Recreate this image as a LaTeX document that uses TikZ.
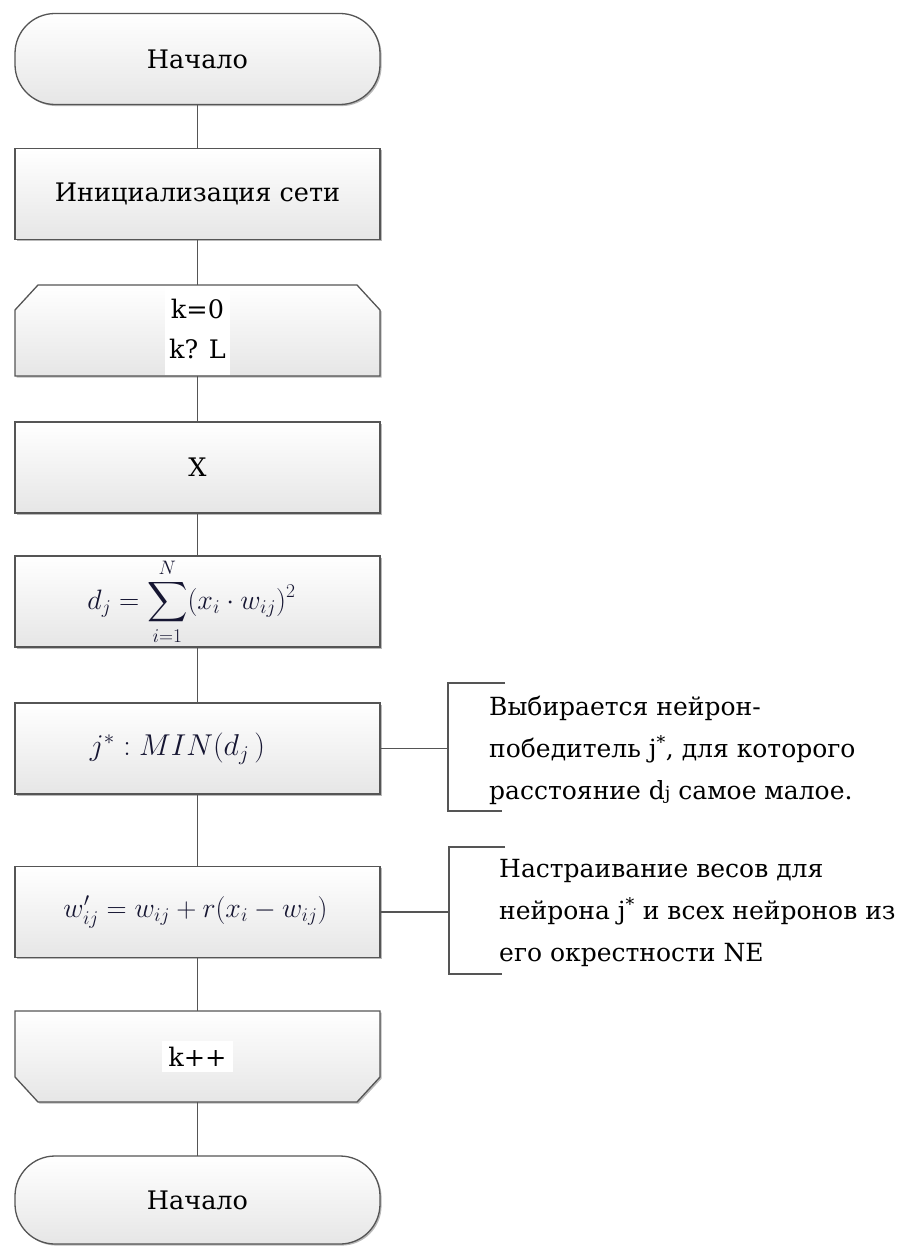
\documentclass[tikz,border=0pt]{standalone}
\usepackage{amsmath}
\usepackage{fontspec}
\setmainfont{DejaVu Serif}
\usepackage{graphicx}
\usetikzlibrary{shadows,backgrounds,calc}

\definecolor{edge}{RGB}{85,85,85}
\definecolor{boxbot}{RGB}{230,230,230}
\definecolor{mathc}{RGB}{22,22,50}
\newcommand\boxfont{\fontsize{25.5}{40}\selectfont}
\newcommand\notefont{\fontsize{25}{42}\selectfont}
\newcommand\smallj{{\fontsize{18}{18}\selectfont j}}

\tikzset{
  frame/.style={draw=edge, line width=1.3pt, top color=white, bottom color=boxbot,
    drop shadow={shadow xshift=1.6pt, shadow yshift=-1.6pt, fill=black!50, opacity=0.55}},
  blk/.style={minimum width=365pt, minimum height=91pt, inner sep=0pt, outer sep=0pt,
    align=center, font=\boxfont, text=black},
  proc/.style={blk, rectangle, frame},
  term/.style={blk, rectangle, rounded corners=40pt, frame},
  bare/.style={blk, rectangle},
  conn/.style={draw=edge, line width=1.3pt},
  bracket/.style={draw=edge, line width=1.3pt},
  note/.style={anchor=west, align=left, inner sep=0pt, font=\notefont},
  mth/.style={text=mathc}
}

\begin{document}
\begin{tikzpicture}[x=1pt,y=-1pt]
\begin{scope}[on background layer]
  \fill[white] (0,0) rectangle (913,1246);
\end{scope}
\useasboundingbox (0,0) rectangle (913,1246);

\node[term] (start) at (197.5,59) {Начало};
\node[proc] (init) at (197.5,194) {Инициализация сети};
\node[bare] (loopA) at (197.5,330.5) {\setlength{\fboxsep}{4pt}\colorbox{white}{\begin{tabular}{@{}c@{}}k=0\\[0pt]k? L\end{tabular}}};
\node[proc] (inp) at (197.5,467.5) {X};
\node[proc, mth] (dist) at (197.5,601.5) {\resizebox{208pt}{!}{$\displaystyle d_j=\sum_{i=1}^{N}(x_i\cdot w_{ij})^2$}\hspace*{12pt}};
\node[proc, mth] (win) at (197.5,748.5) {\resizebox{175pt}{!}{$j^{*}:MIN(d_j\,)$}\hspace*{40pt}};
\node[proc, mth] (upd) at (197.5,912) {\resizebox{264pt}{!}{$w_{ij}^{\prime}=w_{ij}+r(x_i-w_{ij})$}\hspace*{4pt}};
\node[bare] (inc) at (197.5,1056.5) {\setlength{\fboxsep}{6pt}\colorbox{white}{k++}};
\node[term, minimum height=88pt] (finish) at (197.5,1200) {Начало};

\begin{scope}[on background layer]
  \path[frame] ([yshift=-25pt]loopA.north west) -- ([xshift=23pt]loopA.north west)
    -- ([xshift=-23pt]loopA.north east) -- ([yshift=-25pt]loopA.north east)
    -- (loopA.south east) -- (loopA.south west) -- cycle;
  \path[frame] (inc.north west) -- (inc.north east) -- ([yshift=25pt]inc.south east)
    -- ([xshift=-23pt]inc.south east) -- ([xshift=23pt]inc.south west)
    -- ([yshift=25pt]inc.south west) -- cycle;
\end{scope}

\draw[conn] (start) -- (init);
\draw[conn] (init) -- (loopA);
\draw[conn] (loopA) -- (inp);
\draw[conn] (inp) -- (dist);
\draw[conn] (dist) -- (win);
\draw[conn] (win) -- (upd);
\draw[conn] (upd) -- (inc);
\draw[conn] (inc) -- (finish);

% annotation 1
\coordinate (b1) at (448,748.5);
\draw[conn] (win.east) -- (b1);
\draw[bracket] ([shift={(57,-65.5)}]b1) -- ++(-57,0) -- ++(0,128) -- ++(54,0);
\node[note] (n1) at (489,750) {Выбирается нейрон-\\победитель j\textsuperscript{*}, для которого\\расстояние d\smallj{} самое малое.};

% annotation 2
\coordinate (b2) at (449,912);
\draw[conn] (upd.east) -- (b2);
\draw[bracket] ([shift={(56,-65)}]b2) -- ++(-56,0) -- ++(0,127) -- ++(53,0);
\node[note] (n2) at (499,913) {Настраивание весов для\\нейрона j\textsuperscript{*} и всех нейронов из\\его окрестности NE};
\end{tikzpicture}
\end{document}
